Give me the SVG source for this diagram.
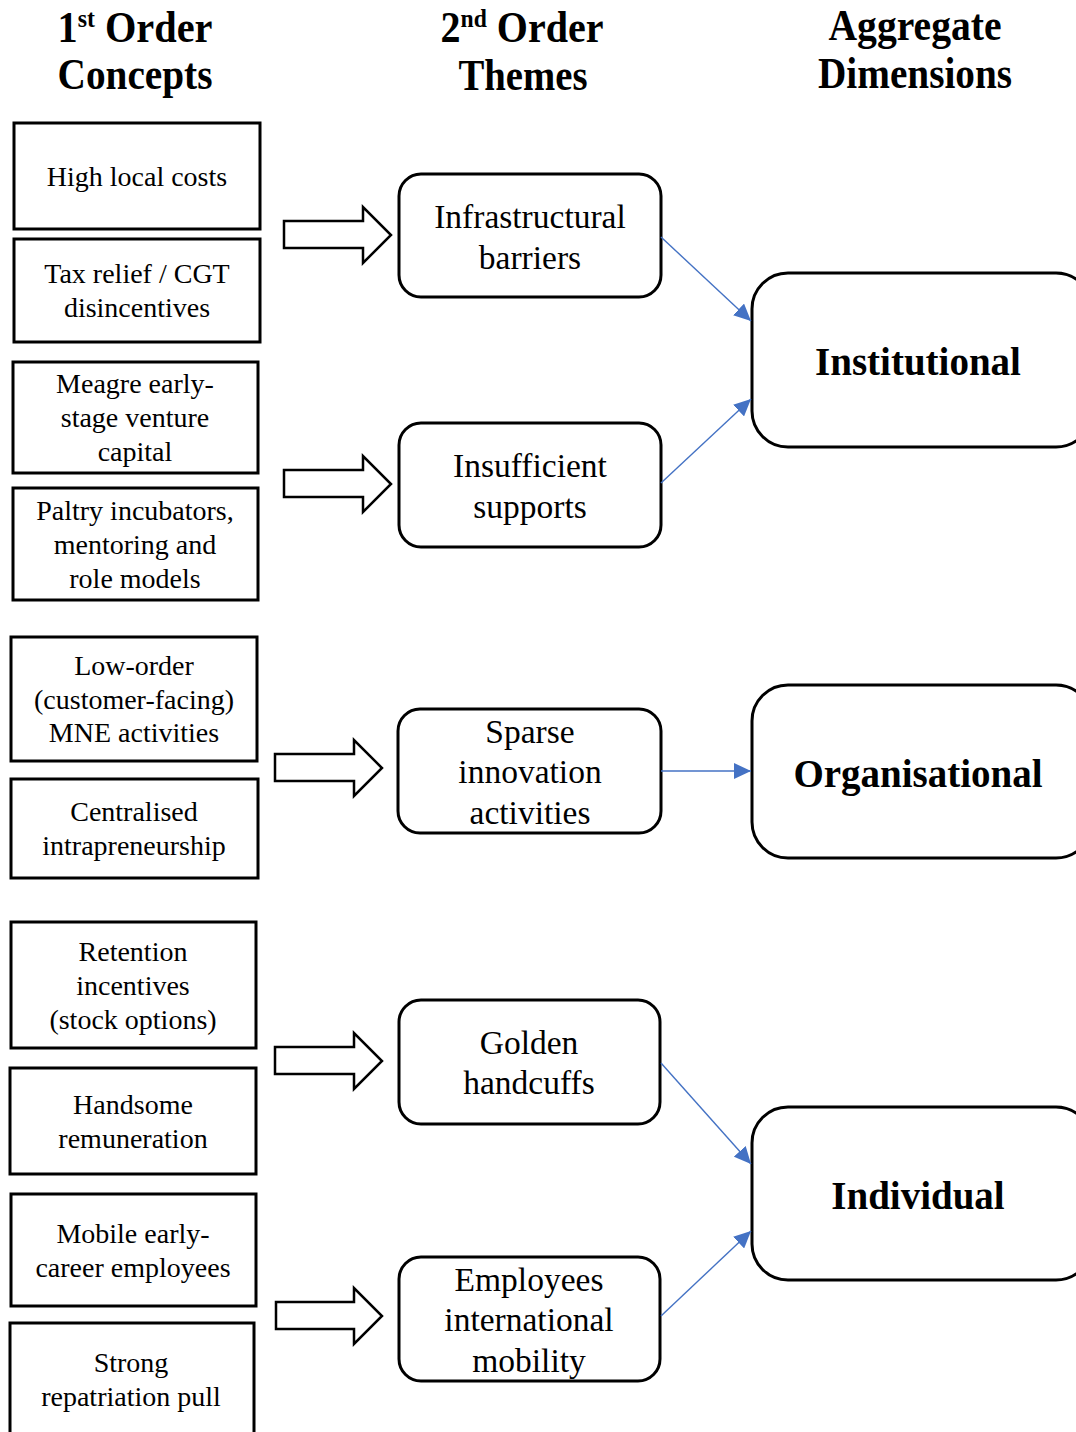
<svg xmlns="http://www.w3.org/2000/svg" width="1076" height="1432" viewBox="0 0 1076 1432">
<style>
.hd{font-family:"Liberation Serif","Times New Roman",serif;font-weight:bold;font-size:44px;fill:#000;text-anchor:middle}
.sup{font-size:26px}
.c1{fill:#fff;stroke:#000;stroke-width:3}
.t1{font-family:"Liberation Serif","Times New Roman",serif;font-size:28px;fill:#000;text-anchor:middle}
.c2{fill:#fff;stroke:#000;stroke-width:3}
.t2{font-family:"Liberation Serif","Times New Roman",serif;font-size:33.5px;fill:#000;text-anchor:middle}
.t3{font-family:"Liberation Serif","Times New Roman",serif;font-size:39px;font-weight:bold;fill:#000;text-anchor:middle}
.blk{fill:#fff;stroke:#000;stroke-width:2.5;stroke-linejoin:miter}
.con{stroke:#4472C4;stroke-width:1.4;fill:none}
</style>
<defs>
<marker id="ah" markerUnits="userSpaceOnUse" markerWidth="20" markerHeight="16" refX="17" refY="8" orient="auto">
<path d="M0,0 L17,8 L0,16 z" fill="#4472C4"/>
</marker>
</defs>
<rect width="1076" height="1432" fill="#fff"/>
<g id="headers">
<text class="hd" x="135" y="42" textLength="155" lengthAdjust="spacingAndGlyphs">1<tspan class="sup" dy="-15">st</tspan><tspan dy="15"> Order</tspan></text>
<text class="hd" x="135" y="89" textLength="155" lengthAdjust="spacingAndGlyphs">Concepts</text>
<text class="hd" x="522" y="42" textLength="163" lengthAdjust="spacingAndGlyphs">2<tspan class="sup" dy="-15">nd</tspan><tspan dy="15"> Order</tspan></text>
<text class="hd" x="523" y="90" textLength="129" lengthAdjust="spacingAndGlyphs">Themes</text>
<text class="hd" x="915" y="40" textLength="173" lengthAdjust="spacingAndGlyphs">Aggregate</text>
<text class="hd" x="915" y="88" textLength="194" lengthAdjust="spacingAndGlyphs">Dimensions</text>
</g>
<g id="concept-high-local-costs"><rect class="c1" x="14" y="123" width="246" height="106"/><text class="t1" x="137" y="186">High local costs</text></g>
<g id="concept-tax-relief"><rect class="c1" x="14" y="239" width="246" height="103"/><text class="t1" x="137" y="283">Tax relief / CGT</text><text class="t1" x="137" y="317">disincentives</text></g>
<g id="concept-meagre"><rect class="c1" x="13" y="362" width="245" height="111"/><text class="t1" x="135" y="393">Meagre early-</text><text class="t1" x="135" y="427">stage venture</text><text class="t1" x="135" y="461">capital</text></g>
<g id="concept-paltry"><rect class="c1" x="13" y="488" width="245" height="112"/><text class="t1" x="135" y="520">Paltry incubators,</text><text class="t1" x="135" y="554">mentoring and</text><text class="t1" x="135" y="588">role models</text></g>
<g id="concept-low-order"><rect class="c1" x="11" y="637" width="246" height="124"/><text class="t1" x="134" y="675">Low-order</text><text class="t1" x="134" y="709">(customer-facing)</text><text class="t1" x="134" y="742">MNE activities</text></g>
<g id="concept-centralised"><rect class="c1" x="11" y="779" width="247" height="99"/><text class="t1" x="134" y="821">Centralised</text><text class="t1" x="134" y="855">intrapreneurship</text></g>
<g id="concept-retention"><rect class="c1" x="11" y="922" width="245" height="126"/><text class="t1" x="133" y="961">Retention</text><text class="t1" x="133" y="995">incentives</text><text class="t1" x="133" y="1029">(stock options)</text></g>
<g id="concept-handsome"><rect class="c1" x="10" y="1068" width="246" height="106"/><text class="t1" x="133" y="1114">Handsome</text><text class="t1" x="133" y="1148">remuneration</text></g>
<g id="concept-mobile"><rect class="c1" x="11" y="1194" width="245" height="112"/><text class="t1" x="133" y="1243">Mobile early-</text><text class="t1" x="133" y="1277">career employees</text></g>
<g id="concept-strong"><rect class="c1" x="10" y="1323" width="244" height="120"/><text class="t1" x="131" y="1372">Strong</text><text class="t1" x="131" y="1406">repatriation pull</text></g>
<g id="theme-infrastructural"><rect class="c2" x="399" y="174" width="262" height="123" rx="22"/><text class="t2" x="530" y="228">Infrastructural</text><text class="t2" x="530" y="269">barriers</text></g>
<g id="theme-insufficient"><rect class="c2" x="399" y="423" width="262" height="124" rx="22"/><text class="t2" x="530" y="477">Insufficient</text><text class="t2" x="530" y="518">supports</text></g>
<g id="theme-sparse"><rect class="c2" x="398" y="709" width="263" height="124" rx="22"/><text class="t2" x="530" y="743">Sparse</text><text class="t2" x="530" y="783">innovation</text><text class="t2" x="530" y="824">activities</text></g>
<g id="theme-golden"><rect class="c2" x="399" y="1000" width="261" height="124" rx="22"/><text class="t2" x="529" y="1054">Golden</text><text class="t2" x="529" y="1094">handcuffs</text></g>
<g id="theme-employees"><rect class="c2" x="399" y="1257" width="261" height="124" rx="22"/><text class="t2" x="529" y="1291">Employees</text><text class="t2" x="529" y="1331">international</text><text class="t2" x="529" y="1372">mobility</text></g>
<g id="dim-institutional"><rect class="c2" x="752" y="273" width="340" height="174" rx="36"/><text class="t3" x="918" y="375">Institutional</text></g>
<g id="dim-organisational"><rect class="c2" x="752" y="685" width="340" height="173" rx="36"/><text class="t3" x="918" y="787">Organisational</text></g>
<g id="dim-individual"><rect class="c2" x="752" y="1107" width="340" height="173" rx="36"/><text class="t3" x="918" y="1209">Individual</text></g>
<g id="connectors">
<path class="blk" d="M284,221 H363 V207 L391,235 L363,263 V248 H284 Z"/>
<path class="blk" d="M284,470 H363 V456 L391,484 L363,512 V497 H284 Z"/>
<path class="blk" d="M275,754 H354 V740 L382,768 L354,796 V781 H275 Z"/>
<path class="blk" d="M275,1047 H354 V1033 L382,1061 L354,1089 V1074 H275 Z"/>
<path class="blk" d="M276,1302 H354 V1288 L382,1316 L354,1344 V1329 H276 Z"/>
<line class="con" x1="661" y1="237" x2="751" y2="321" marker-end="url(#ah)"/>
<line class="con" x1="661" y1="483" x2="751" y2="399" marker-end="url(#ah)"/>
<line class="con" x1="661" y1="771" x2="751" y2="771" marker-end="url(#ah)"/>
<line class="con" x1="661" y1="1063" x2="751" y2="1164" marker-end="url(#ah)"/>
<line class="con" x1="661" y1="1316" x2="751" y2="1231" marker-end="url(#ah)"/>
</g>
</svg>
